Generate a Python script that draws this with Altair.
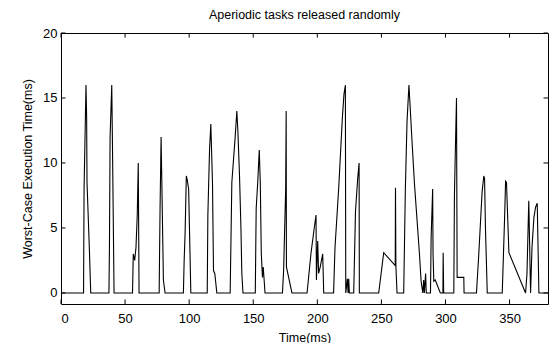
import altair as alt
import pandas as pd

# Time (ms) and worst-case execution time (ms) vertices of the trace
t = [0, 17.6, 18, 19.5, 20, 20.3, 22.1, 23.2,
     37.4, 37.8, 38.3, 39.6, 40.2, 41.4,
     55.8, 56.4, 57.5, 58.5, 59.5, 60.3, 60.9,
     76.6, 76.8, 77.3, 78.1, 78.6, 79.9, 81.2,
     95.5, 96.1, 96.8, 97.8, 98.5, 99.6, 101.3,
     114.1, 114.6, 115.9, 116.9, 118.2, 119, 120, 121.6,
     132, 133.3, 135.9, 137.2, 138, 139.3, 140.4, 141.1, 142,
     151.6, 152.3, 153.5, 154.7, 155.5, 156.3, 157.2, 157.8, 159.2,
     172.8, 173.7, 175.3, 175.7, 175.9, 180.2,
     192, 195, 197.6, 199, 199.3, 200.3, 201, 202.3, 204.2, 205,
     212.7, 213.8, 216.7, 219.5, 220.8, 221.9, 222.2, 223.5, 224, 224.5, 225,
     228.4, 229.8, 231.5, 232.6, 232.8,
     247.9, 251.8, 260.8, 261, 261.3, 262.2,
     267.4, 268.7, 270, 271.5, 274, 275.8, 277.9, 279.7, 281, 282.3, 283, 283.5, 284.5, 285,
     288.3, 288.8, 290, 290.3, 290.9, 292, 296, 298, 298.2, 298.6,
     306.5, 307, 307.5, 308.6, 309.1, 314.3, 314.5,
     324.2, 326, 328.6, 329.9, 330.5, 331.2, 332.6,
     344.3, 346.2, 346.9, 347.6, 349.5, 362.5, 363.6, 365, 366.4, 367.5, 369, 370.3, 371.6, 372.9, 380]
v = [0, 0, 8, 16, 13.5, 8.5, 3.5, 0,
     0, 3.5, 12, 16, 11, 0,
     0, 3, 2.5, 3.5, 6, 10, 0,
     0, 2, 6.5, 12, 9, 1, 0,
     0, 2.5, 4.5, 9, 8.7, 8, 0,
     0, 6, 11, 13, 8.5, 1.7, 1.5, 0,
     0, 8.5, 12, 14, 12.5, 9, 5, 1.5, 0,
     0, 6.5, 8.5, 11, 8.5, 3, 1.2, 2, 0,
     0, 1.7, 8, 14, 2, 0,
     0, 3, 5, 6, 1, 4, 1.5, 2, 3, 0,
     0, 3.5, 8.1, 13.4, 15.3, 16, 0, 1.1, 0, 1.1, 0,
     0, 6.3, 8.8, 10, 0,
     0, 3.1, 2.1, 8.1, 2.1, 0,
     0, 8, 13.2, 16, 11.5, 8.4, 5.5, 3, 0.9, 0, 1, 0, 1.5, 0,
     0, 4.2, 8, 3, 0.9, 1, 0, 0, 3.1, 0,
     0, 7.6, 10, 15, 1.2, 1.2, 0,
     0, 3, 7.8, 9, 8.8, 5, 0,
     0, 6, 8.6, 8.5, 3.1, 0, 1.5, 7.1, 0, 3.5, 5.8, 6.6, 6.9, 0, 0]

x_ticks = [0, 50, 100, 150, 200, 250, 300, 350]
y_ticks = [0, 5, 10, 15, 20]

X_MIN, X_MAX = 0, 380
Y_MIN, Y_MAX = -0.85, 20
FONT = "Liberation Sans"

df = pd.DataFrame({"t": t, "v": v, "i": list(range(len(t)))})

xs = alt.Scale(domain=[X_MIN, X_MAX], nice=False, zero=False)
ys = alt.Scale(domain=[Y_MIN, Y_MAX], nice=False, zero=False)

axis_style = dict(ticks=False, tickSize=0, domain=False, grid=False,
                  labelFont=FONT, titleFont=FONT, labelFontSize=13,
                  titleFontSize=12.5, labelColor="#000000", titleColor="#000000",
                  titleFontWeight="normal")

line = alt.Chart(df).mark_line(color="#000000", strokeWidth=1.1, clip=True).encode(
    x=alt.X("t:Q", scale=xs, title="Time(ms)",
            axis=alt.Axis(values=x_ticks, labelPadding=8, titlePadding=6, **axis_style)),
    y=alt.Y("v:Q", scale=ys, title="Worst-Case Execution Time(ms)",
            axis=alt.Axis(values=y_ticks, labelPadding=4, titlePadding=8, **axis_style)),
    order="i:Q",
)

# inward tick marks on all four sides (MATLAB style)
xlen = 0.35
hlen = 3.5
tick_rows = []
for xt in x_ticks:
    tick_rows.append({"x": xt, "x2": xt, "y": Y_MIN, "y2": Y_MIN + xlen})
    tick_rows.append({"x": xt, "x2": xt, "y": Y_MAX, "y2": Y_MAX - xlen})
for yt in y_ticks:
    tick_rows.append({"x": X_MIN, "x2": X_MIN + hlen, "y": yt, "y2": yt})
    tick_rows.append({"x": X_MAX, "x2": X_MAX - hlen, "y": yt, "y2": yt})
ticks_df = pd.DataFrame(tick_rows)

ticks = alt.Chart(ticks_df).mark_rule(color="#000000", strokeWidth=1).encode(
    x=alt.X("x:Q", scale=xs),
    x2="x2:Q",
    y=alt.Y("y:Q", scale=ys),
    y2="y2:Q",
)

chart = alt.layer(line, ticks).properties(
    width=487,
    height=271,
    background="white",
    title=alt.TitleParams("Aperiodic tasks released randomly", fontSize=12.5,
                          fontWeight="normal", font=FONT, anchor="middle",
                          baseline="alphabetic", offset=-4, color="#000000"),
    autosize=alt.AutoSizeParams(type="none"),
    padding={"left": 61, "top": 33, "right": 8, "bottom": 39},
).configure_view(
    stroke="#000000", strokeWidth=1
)

chart.save("out.html", embed_options={"renderer": "svg", "actions": False})
